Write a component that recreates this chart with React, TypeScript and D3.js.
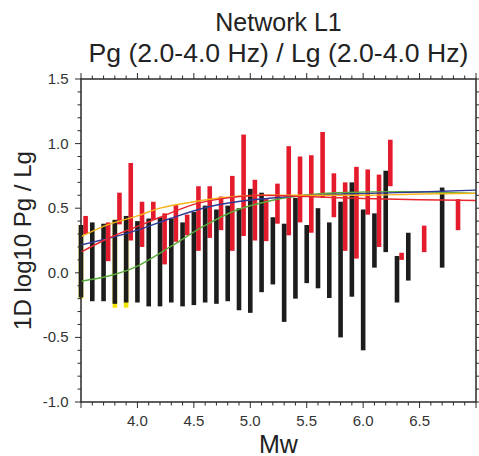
import React from "react";
import * as d3 from "d3";

// ---- data ----
const blackMw = [3.5,3.6,3.7,3.8,3.9,4.0,4.1,4.2,4.3,4.4,4.5,4.6,4.7,4.8,4.9,5.0,5.1,5.2,5.3,5.4,5.5,5.6,5.7,5.8,5.9,6.0,6.1,6.2,6.3,6.4,6.7];
const blackHigh = [0.37,0.39,0.38,0.41,0.44,0.40,0.42,0.43,0.42,0.39,0.47,0.52,0.49,0.52,0.50,0.65,0.62,0.43,0.38,0.58,0.37,0.50,0.39,0.55,0.70,0.49,0.46,0.79,0.13,0.31,0.66];
const blackLow = [-0.19,-0.22,-0.22,-0.24,-0.23,-0.23,-0.26,-0.26,-0.23,-0.26,-0.25,-0.23,-0.24,-0.22,-0.29,-0.31,-0.15,-0.09,-0.38,-0.20,-0.08,-0.12,-0.195,-0.50,-0.185,-0.60,0.04,0.16,-0.23,-0.06,0.04];

const redMw = [3.5,3.7,3.8,3.9,4.0,4.1,4.2,4.3,4.4,4.5,4.6,4.7,4.8,4.9,5.0,5.1,5.2,5.3,5.4,5.5,5.6,5.7,5.8,5.9,6.0,6.1,6.2,6.3,6.5,6.8];
const redHigh = [0.44,0.39,0.62,0.85,0.55,0.55,0.46,0.525,0.45,0.67,0.67,0.59,0.75,1.07,0.72,0.57,0.69,0.98,0.90,0.91,1.09,0.77,0.70,0.82,0.80,0.76,1.03,0.155,0.365,0.57];
const redLow = [0.30,0.09,0.375,0.25,0.20,0.41,0.065,0.24,0.29,0.17,0.27,0.33,0.17,0.285,0.25,0.245,0.38,0.29,0.39,0.31,0.58,0.43,0.17,0.11,0.45,0.20,0.67,0.10,0.16,0.33];

const yellowMw = [3.5,3.8,3.9];
const yellowHigh = [0.37,0.41,0.44];
const yellowLow = [-0.20,-0.27,-0.27];

const orangeMw = [3.5,3.7,4.0,4.2,4.5,4.8,5.1,5.5,6.0,6.5,7.0];
const orangeVal = [0.28,0.36,0.44,0.50,0.55,0.585,0.60,0.60,0.60,0.61,0.615];
const redLineMw = [3.5,3.7,4.0,4.2,4.5,4.8,5.1,5.5,6.0,6.5,7.0];
const redLineVal = [0.16,0.25,0.36,0.43,0.53,0.58,0.60,0.59,0.575,0.565,0.56];
const blueMw = [3.5,4.0,4.29,4.58,4.88,5.17,5.47,6.06,6.5,7.0];
const blueVal = [0.215,0.33,0.42,0.50,0.55,0.577,0.597,0.615,0.625,0.64];
const greenMw = [3.5,3.99,4.29,4.58,4.88,5.17,5.47,5.76,6.35,7.0];
const greenVal = [-0.065,0.047,0.20,0.357,0.486,0.556,0.60,0.62,0.628,0.615];

const xTicks = [4.0,4.5,5.0,5.5,6.0,6.5];
const yTicks = [-1.0,-0.5,0.0,0.5,1.0,1.5];

const titleLine1 = "Network L1";
const titleLine2 = "Pg (2.0-4.0 Hz) / Lg (2.0-4.0 Hz)";
const xLabel = "Mw";
const yLabel = "1D log10 Pg / Lg";

export default function App() {
  const W = 479, H = 456;
  const left = 81, right = 476, top = 79, bottom = 402;
  const x = d3.scaleLinear().domain([3.5, 7.0]).range([left, right]);
  const y = d3.scaleLinear().domain([-1.0, 1.5]).range([bottom, top]);
  const barW = 4.6;
  const redOff = 4.6;
  const font = "'Liberation Sans', Arial, Helvetica, sans-serif";
  const axisColor = "#2a2a2a";

  const xMinor = d3.range(35, 71).map((v) => v / 10);
  const yMinor = d3.range(-10, 16).map((v) => v / 10);
  const isMajor = (v: number) => Math.abs(v * 2 - Math.round(v * 2)) < 1e-6;

  const mkLine = (mw: number[], val: number[]) =>
    d3.line<number>().x((_, i) => x(mw[i])).y((_, i) => y(val[i])).curve(d3.curveMonotoneX)(mw) || "";

  const lines = [
    { mw: greenMw, v: greenVal, c: "#5aaa3c" },
    { mw: blueMw, v: blueVal, c: "#2e3a96" },
    { mw: orangeMw, v: orangeVal, c: "#f6b31c" },
    { mw: redLineMw, v: redLineVal, c: "#e8262e" },
  ];

  return (
    <svg width={W} height={H} style={{ position: "absolute", left: 0, top: 0, background: "#fff" }}>
      <rect x={0} y={0} width={W} height={H} fill="#fff" />
      {/* title */}
      <text x={278.5} y={31} textAnchor="middle" fontFamily={font} fontSize={25} fill="#222">{titleLine1}</text>
      <text x={278.5} y={62} textAnchor="middle" fontFamily={font} fontSize={26.6} fill="#222">{titleLine2}</text>

      {/* bars */}
      {yellowMw.map((m, i) => (
        <rect key={"y" + i} x={x(m) - barW / 2} y={y(yellowHigh[i])} width={barW} height={y(yellowLow[i]) - y(yellowHigh[i])} fill="#f3e500" />
      ))}
      {redMw.map((m, i) => (
        <rect key={"r" + i} x={x(m) + redOff - barW / 2} y={y(redHigh[i])} width={barW} height={y(redLow[i]) - y(redHigh[i])} fill="#e41b2c" />
      ))}
      {blackMw.map((m, i) => (
        <rect key={"b" + i} x={x(m) - barW / 2} y={y(blackHigh[i])} width={barW} height={y(blackLow[i]) - y(blackHigh[i])} fill="#1c1c1c" />
      ))}

      {/* lines */}
      {lines.map((l, i) => (
        <path key={"l" + i} d={mkLine(l.mw, l.v)} fill="none" stroke={l.c} strokeWidth={1.4} />
      ))}

      {/* frame */}
      <rect x={left} y={top} width={right - left} height={bottom - top} fill="none" stroke={axisColor} strokeWidth={1.5} />

      {/* x ticks bottom & top */}
      {xMinor.map((v, i) => {
        const len = isMajor(v) ? 6 : 3.5;
        const px = x(v);
        return (
          <g key={"xt" + i}>
            <line x1={px} x2={px} y1={bottom} y2={bottom + len} stroke={axisColor} strokeWidth={1} />
            <line x1={px} x2={px} y1={top} y2={top - len} stroke={axisColor} strokeWidth={1} />
          </g>
        );
      })}
      {yMinor.map((v, i) => {
        const len = isMajor(v) ? 6 : 3.5;
        const py = y(v);
        return (
          <g key={"yt" + i}>
            <line x1={left} x2={left - len} y1={py} y2={py} stroke={axisColor} strokeWidth={1} />
            <line x1={right} x2={right + len} y1={py} y2={py} stroke={axisColor} strokeWidth={1} />
          </g>
        );
      })}
      {xTicks.map((v, i) => (
        <text key={"xl" + i} x={x(v)} y={426} textAnchor="middle" fontFamily={font} fontSize={15} fill="#333">{v.toFixed(1)}</text>
      ))}
      {yTicks.map((v, i) => (
        <text key={"yl" + i} x={68.5} y={y(v) + 5} textAnchor="end" fontFamily={font} fontSize={15} fill="#333">{v.toFixed(1)}</text>
      ))}

      {/* axis labels */}
      <text x={278.5} y={452.5} textAnchor="middle" fontFamily={font} fontSize={25} fill="#222">{xLabel}</text>
      <text transform={`translate(31,240.5) rotate(-90)`} textAnchor="middle" fontFamily={font} fontSize={24} fill="#222">{yLabel}</text>
    </svg>
  );
}
